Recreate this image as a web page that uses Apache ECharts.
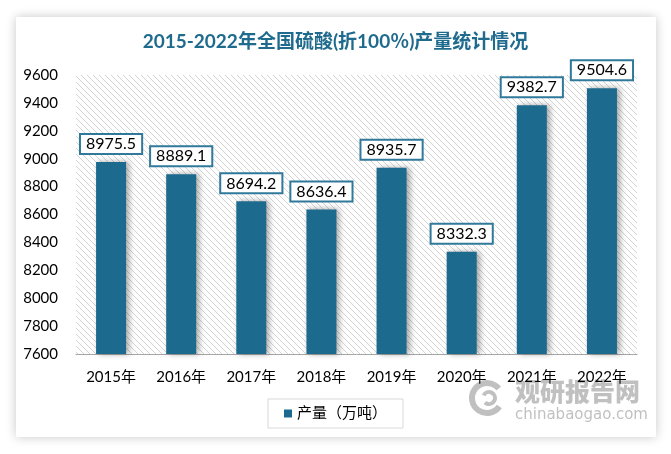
<!DOCTYPE html>
<html>
<head>
<meta charset="utf-8">
<script src="https://cdn.jsdelivr.net/npm/echarts@6/dist/echarts.min.js"></script>
<style>
  html, body { margin: 0; padding: 0; background: #fff; }
  #wrap { position: relative; width: 671px; height: 454px; }
  #card {
    position: absolute; left: 16px; top: 17px; width: 640px; height: 420px;
    background: #fff; box-shadow: 0 0 10px rgba(0, 0, 0, 0.22);
  }
  #sulfuricChart { position: absolute; left: 0; top: 0; width: 671px; height: 454px; }
</style>
</head>
<body>
<div id="wrap">
  <div id="card"></div>
  <div id="sulfuricChart"></div>
</div>
<script>
const years = ["2015年", "2016年", "2017年", "2018年", "2019年", "2020年", "2021年", "2022年"];
const output = [8975.5, 8889.1, 8694.2, 8636.4, 8935.7, 8332.3, 9382.7, 9504.6];
const yMin = 7600;
const yMax = 9600;
const yStep = 200;

const font = "Lato, 'Noto Sans CJK SC', sans-serif";
const barColor = "#1c6a8e";
const markGray = "rgba(150,150,150,0.6)";

// 斜线底纹
function hatch() {
  const c = document.createElement("canvas");
  c.width = 6;
  c.height = 6;
  const ctx = c.getContext("2d");
  ctx.fillStyle = "#ffffff";
  ctx.fillRect(0, 0, 6, 6);
  ctx.strokeStyle = "#d4d4d4";
  ctx.lineWidth = 1;
  ctx.beginPath();
  ctx.moveTo(0, 0);
  ctx.lineTo(6, 6);
  ctx.moveTo(-3, 3);
  ctx.lineTo(3, 9);
  ctx.moveTo(3, -3);
  ctx.lineTo(9, 3);
  ctx.stroke();
  return c;
}

const chart = echarts.init(document.getElementById("sulfuricChart"));
const option = {
  title: {
    text: "2015-2022年全国硫酸(折100％)产量统计情况",
    left: "center",
    top: 27,
    textStyle: { color: "#1f6b8e", fontSize: 19, fontWeight: "bold", fontFamily: font },
  },
  legend: {
    bottom: 26,
    left: "center",
    itemWidth: 8,
    itemHeight: 8,
    icon: "rect",
    borderColor: "#d9d9d9",
    borderWidth: 1,
    padding: [7, 16, 7, 16],
    textStyle: { color: "#000", fontSize: 15, fontFamily: font },
  },
  grid: {
    left: 76,
    right: 34,
    top: 75,
    bottom: 100,
    show: true,
    borderWidth: 0,
    backgroundColor: { image: hatch(), repeat: "repeat" },
  },
  xAxis: {
    type: "category",
    data: years,
    axisLine: { lineStyle: { color: "#a6a6a6", width: 1 } },
    axisTick: { show: false },
    axisLabel: { color: "#000", fontSize: 15, fontFamily: font, margin: 16 },
  },
  yAxis: {
    type: "value",
    min: yMin,
    max: yMax,
    interval: yStep,
    axisLine: { show: false },
    axisTick: { show: false },
    splitLine: { show: false },
    axisLabel: {
      color: "#000",
      fontSize: 15,
      fontFamily: font,
      margin: 18,
      formatter: (v) => String(v),
    },
  },
  series: [
    {
      name: "产量（万吨）",
      type: "bar",
      data: output,
      barWidth: 30,
      itemStyle: {
        color: barColor,
        shadowColor: "rgba(0,0,0,0.35)",
        shadowBlur: 6,
        shadowOffsetX: 3,
      },
      label: {
        show: true,
        position: "top",
        distance: 9,
        color: "#000",
        fontSize: 16,
        fontFamily: font,
        backgroundColor: "#fff",
        borderColor: "#31799b",
        borderWidth: 2,
        padding: [1, 5, 1, 5],
      },
    },
  ],
  // 水印
  graphic: [
    {
      type: "arc",
      shape: { cx: 487, cy: 398, r: 15, startAngle: 0.6, endAngle: 5.6 },
      style: { stroke: markGray, lineWidth: 6, fill: "none" },
    },
    {
      type: "arc",
      shape: { cx: 489, cy: 398, r: 6, startAngle: 3.6, endAngle: 8.6 },
      style: { stroke: markGray, lineWidth: 4, fill: "none" },
    },
    {
      type: "text",
      left: 515,
      top: 379,
      style: { text: "观研报告网", fill: markGray, fontSize: 25, fontWeight: 900, fontFamily: "'Noto Sans CJK SC'" },
    },
    {
      type: "text",
      left: 515,
      top: 408,
      style: { text: "chinabaogao.com", fill: markGray, fontSize: 15, fontFamily: "'DejaVu Sans'" },
    },
  ],
};
chart.setOption(option);
</script>
</body>
</html>
